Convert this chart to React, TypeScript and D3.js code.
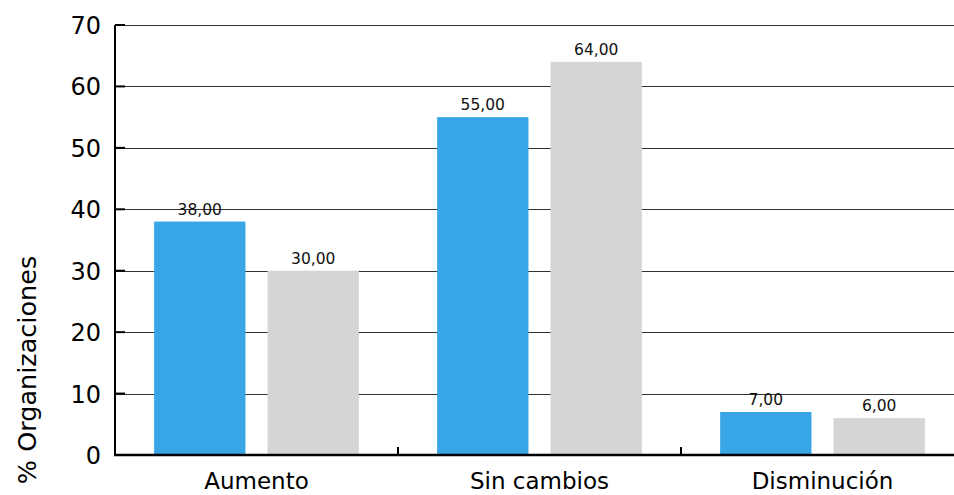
import React from "react";
import * as d3 from "d3";

const categories = ["Aumento", "Sin cambios", "Disminución"];
const seriesA = [38, 55, 7];
const seriesB = [30, 64, 6];
const yTicks = [0, 10, 20, 30, 40, 50, 60, 70];

const W = 954;
const H = 495;
const left = 115;
const top = 25;
const bottom = 455;

export default function App() {
  const x = d3.scaleBand<string>().domain(categories).range([left, left + 283 * 3]).padding(0);
  const inner = d3.scaleBand<number>().domain([0, 1]).range([0, x.bandwidth()]).paddingInner(0.195).paddingOuter(0.345);
  const y = d3.scaleLinear().domain([0, 70]).range([bottom, top]);
  const fmt = (v: number) => v.toFixed(2).replace(".", ",");
  const series = [
    { values: seriesA, color: "#38A6E6" },
    { values: seriesB, color: "#D5D5D5" },
  ];
  const font = "'DejaVu Sans', 'Liberation Sans', Arial, sans-serif";
  return (
    <svg width={W} height={H} style={{ position: "absolute", left: 0, top: 0 }} fontFamily={font}>
      <rect width={W} height={H} fill="#fff" />
      {yTicks.filter((t) => t > 0).map((t) => (
        <line key={t} x1={left} x2={W} y1={Math.round(y(t)) + 0.5} y2={Math.round(y(t)) + 0.5} stroke="#333" strokeWidth={1} />
      ))}
      {series.map((s, si) =>
        categories.map((c, ci) => {
          const bx = (x(c) as number) + (inner(si) as number);
          const by = y(s.values[ci]);
          return (
            <g key={`${si}-${ci}`}>
              <rect x={bx} y={by} width={inner.bandwidth()} height={bottom - by} fill={s.color} />
              <text x={bx + inner.bandwidth() / 2} y={by - 7} textAnchor="middle" fontSize={15.5} fill="#111">
                {fmt(s.values[ci])}
              </text>
            </g>
          );
        })
      )}
      {/* y axis */}
      <line x1={left} x2={left} y1={top} y2={bottom + 1} stroke="#000" strokeWidth={2} />
      {yTicks.map((t) => (
        <g key={t}>
          <line x1={left} x2={left + 10} y1={y(t)} y2={y(t)} stroke="#000" strokeWidth={2} />
          <text x={101} y={y(t) + 9} textAnchor="end" fontSize={24} fill="#000">
            {t}
          </text>
        </g>
      ))}
      {/* x axis */}
      <line x1={left - 1} x2={W} y1={bottom} y2={bottom} stroke="#000" strokeWidth={2.5} />
      {categories.slice(1).map((c) => (
        <line key={c} x1={x(c) as number} x2={x(c) as number} y1={bottom} y2={bottom - 8} stroke="#000" strokeWidth={2} />
      ))}
      {categories.map((c) => (
        <text key={c} x={(x(c) as number) + x.bandwidth() / 2} y={489} textAnchor="middle" fontSize={23} fill="#000">
          {c}
        </text>
      ))}
      <text transform={`translate(36,370) rotate(-90)`} textAnchor="middle" fontSize={25.5} fill="#000">
        % Organizaciones
      </text>
    </svg>
  );
}
